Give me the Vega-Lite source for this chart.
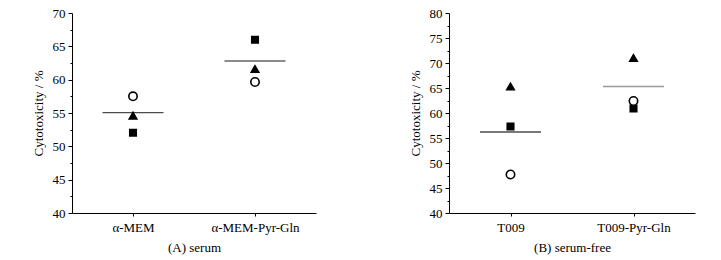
{
  "$schema": "https://vega.github.io/schema/vega-lite/v6.json",
  "padding": {"left": 32, "top": 7, "right": 5, "bottom": 5},
  "background": "white",
  "config": {
    "font": "Liberation Serif",
    "view": {"stroke": null},
    "axis": {
      "labelFont": "Liberation Serif", "titleFont": "Liberation Serif",
      "labelFontSize": 13, "titleFontSize": 13, "titleFontWeight": "normal",
      "labelColor": "black", "titleColor": "black",
      "domainColor": "black", "tickColor": "black", "grid": false
    },
    "concat": {"spacing": 93}
  },
  "datasets": {
    "pointsA": [
      {"group": "α-MEM", "rep": "1", "value": 52.05},
      {"group": "α-MEM", "rep": "2", "value": 54.6},
      {"group": "α-MEM", "rep": "3", "value": 57.5},
      {"group": "α-MEM-Pyr-Gln", "rep": "1", "value": 66.0},
      {"group": "α-MEM-Pyr-Gln", "rep": "2", "value": 61.6},
      {"group": "α-MEM-Pyr-Gln", "rep": "3", "value": 59.65}
    ],
    "meansA": [
      {"group": "α-MEM", "value": 55.05},
      {"group": "α-MEM-Pyr-Gln", "value": 62.8}
    ],
    "pointsB": [
      {"group": "T009", "rep": "1", "value": 57.3},
      {"group": "T009", "rep": "2", "value": 65.3},
      {"group": "T009", "rep": "3", "value": 47.7},
      {"group": "T009-Pyr-Gln", "rep": "1", "value": 60.9},
      {"group": "T009-Pyr-Gln", "rep": "2", "value": 71.0},
      {"group": "T009-Pyr-Gln", "rep": "3", "value": 62.4}
    ],
    "meansB": [
      {"group": "T009", "value": 56.2},
      {"group": "T009-Pyr-Gln", "value": 65.3}
    ]
  },
  "hconcat": [
    {
      "width": 244, "height": 200,
      "encoding": {
        "x": {"field": "group", "type": "nominal", "title": "(A) serum",
              "scale": {"type": "point", "padding": 0.5, "domain": ["α-MEM", "α-MEM-Pyr-Gln"]},
              "axis": {"labelAngle": 0, "tickSize": 3, "labelPadding": 5, "titlePadding": 7}},
        "y": {"field": "value", "type": "quantitative", "title": "Cytotoxicity / %",
              "scale": {"domain": [40, 70], "nice": false, "zero": false},
              "axis": {"values": [40, 42.5, 45, 47.5, 50, 52.5, 55, 57.5, 60, 62.5, 65, 67.5, 70],
                       "labelOverlap": false,
                       "labelExpr": "datum.value % 5 === 0 ? format(datum.value, 'd') : ''",
                       "tickSize": {"condition": {"test": "datum.value % 5 === 0", "value": 4}, "value": 2},
                       "labelPadding": 3, "titlePadding": 7}}
      },
      "layer": [
        {
          "data": {"name": "meansA"},
          "mark": {"type": "tick", "orient": "horizontal", "size": 61, "thickness": 1.3},
          "encoding": {
            "color": {"condition": {"test": "datum.group === 'α-MEM-Pyr-Gln'", "value": "#222222"}, "value": "black"}
          }
        },
        {
          "data": {"name": "pointsA"},
          "mark": {"type": "point", "filled": true, "stroke": "black", "strokeWidth": 1.6, "opacity": 1},
          "encoding": {
            "shape": {"field": "rep", "type": "nominal", "legend": null,
                      "scale": {"domain": ["1", "2", "3"], "range": ["square", "triangle-up", "circle"]}},
            "fill": {"field": "rep", "type": "nominal", "legend": null,
                     "scale": {"domain": ["1", "2", "3"], "range": ["black", "black", "white"]}},
            "size": {"field": "rep", "type": "nominal", "legend": null,
                     "scale": {"domain": ["1", "2", "3"], "range": [42, 70, 48]}}
          }
        }
      ]
    },
    {
      "width": 246, "height": 200,
      "encoding": {
        "x": {"field": "group", "type": "nominal", "title": "(B) serum-free",
              "scale": {"type": "point", "padding": 0.5, "domain": ["T009", "T009-Pyr-Gln"]},
              "axis": {"labelAngle": 0, "tickSize": 3, "labelPadding": 5, "titlePadding": 7}},
        "y": {"field": "value", "type": "quantitative", "title": "Cytotoxicity / %",
              "scale": {"domain": [40, 80], "nice": false, "zero": false},
              "axis": {"values": [40, 42.5, 45, 47.5, 50, 52.5, 55, 57.5, 60, 62.5, 65, 67.5, 70, 72.5, 75, 77.5, 80],
                       "labelOverlap": false,
                       "labelExpr": "datum.value % 5 === 0 ? format(datum.value, 'd') : ''",
                       "tickSize": {"condition": {"test": "datum.value % 5 === 0", "value": 4}, "value": 2},
                       "labelPadding": 3, "titlePadding": 7}}
      },
      "layer": [
        {
          "data": {"name": "meansB"},
          "mark": {"type": "tick", "orient": "horizontal", "size": 61, "thickness": 1.3},
          "encoding": {
            "color": {"condition": {"test": "datum.group === 'T009-Pyr-Gln'", "value": "#6e6e6e"}, "value": "black"}
          }
        },
        {
          "data": {"name": "pointsB"},
          "mark": {"type": "point", "filled": true, "stroke": "black", "strokeWidth": 1.6, "opacity": 1},
          "encoding": {
            "shape": {"field": "rep", "type": "nominal", "legend": null,
                      "scale": {"domain": ["1", "2", "3"], "range": ["square", "triangle-up", "circle"]}},
            "fill": {"field": "rep", "type": "nominal", "legend": null,
                     "scale": {"domain": ["1", "2", "3"], "range": ["black", "black", "white"]}},
            "size": {"field": "rep", "type": "nominal", "legend": null,
                     "scale": {"domain": ["1", "2", "3"], "range": [42, 70, 48]}}
          }
        }
      ]
    }
  ]
}
